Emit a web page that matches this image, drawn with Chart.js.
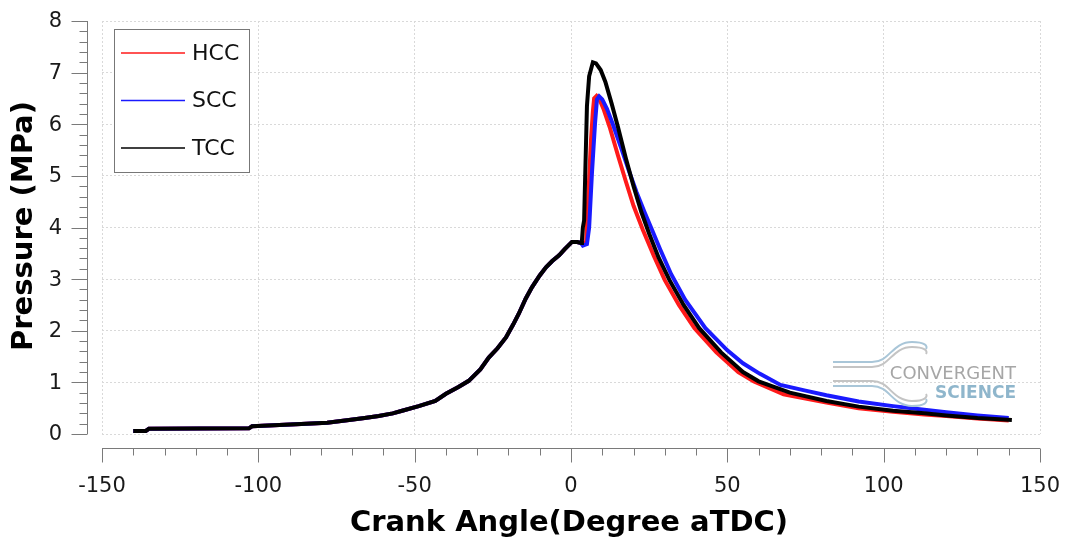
<!DOCTYPE html>
<html>
<head>
<meta charset="utf-8">
<script src="https://cdn.jsdelivr.net/npm/chart.js@4/dist/chart.umd.min.js"></script>
<style>
  html, body { margin: 0; padding: 0; background: #fff; }
  #wrap { width: 1069px; height: 542px; }
</style>
</head>
<body>
<div id="wrap"><canvas id="pressureChart" width="1069" height="542"></canvas></div>
<script>
// 压缩段（三条曲线基本重合）
const compressionAngle = [-140, -136, -135, -103, -102, -88, -78, -71, -66, -61.5, -57, -54, -48.7, -43.4, -40, -36, -32.7, -29, -26.3, -23.5, -20.8, -18.5, -16.7, -14.5, -12.5, -10, -8, -6, -3.8, -2, 0.3, 2, 3.2];
const compressionPressure = [0.06, 0.06, 0.10, 0.11, 0.15, 0.19, 0.22, 0.27, 0.31, 0.35, 0.40, 0.45, 0.54, 0.64, 0.78, 0.91, 1.03, 1.25, 1.48, 1.66, 1.87, 2.12, 2.33, 2.62, 2.84, 3.07, 3.23, 3.35, 3.46, 3.58, 3.72, 3.72, 3.70];

// 燃烧及膨胀段
const hccAngle = [4.8, 5.3, 6.0, 6.4, 7.0, 7.4, 8.2, 9, 10.5, 12.5, 15, 17.5, 20, 23, 26.5, 30, 34.5, 39.5, 46.5, 53.5, 58.5, 68, 81.7, 92, 103, 113, 120, 130, 140];
const hccPressure = [3.70, 4.3, 5.2, 5.7, 6.25, 6.5, 6.55, 6.5, 6.28, 5.92, 5.4, 4.9, 4.42, 3.95, 3.45, 2.98, 2.5, 2.05, 1.58, 1.2, 1.02, 0.77, 0.61, 0.50, 0.43, 0.38, 0.35, 0.30, 0.26];

const sccAngle = [3.8, 5.1, 5.8, 6.7, 7.7, 8.3, 9, 10, 11.5, 13.5, 16, 18.5, 21, 23.5, 25.6, 28.5, 32, 36.5, 43, 50, 55, 60.3, 67, 75, 81.7, 92, 103, 113, 120, 130, 140];
const sccPressure = [3.65, 3.68, 4.0, 5.06, 6.03, 6.48, 6.54, 6.48, 6.3, 5.98, 5.55, 5.1, 4.68, 4.3, 4.0, 3.58, 3.1, 2.6, 2.05, 1.62, 1.37, 1.17, 0.95, 0.84, 0.75, 0.63, 0.54, 0.47, 0.42, 0.36, 0.31];

const tccAngle = [3.5, 3.8, 4.2, 4.5, 5.1, 5.8, 7, 8, 9.5, 11, 13, 15, 17.5, 20, 22.5, 25, 28, 31.5, 36, 41, 48, 55, 60, 70, 81.7, 92, 103, 113, 120, 130, 141];
const tccPressure = [3.75, 4.0, 4.14, 4.9, 6.35, 6.93, 7.2, 7.18, 7.05, 6.82, 6.4, 5.95, 5.35, 4.8, 4.3, 3.88, 3.42, 2.98, 2.5, 2.05, 1.58, 1.2, 1.02, 0.8, 0.64, 0.53, 0.45, 0.40, 0.36, 0.31, 0.27];

const seriesNames = ['HCC', 'SCC', 'TCC'];
const seriesColors = ['#ff1a1a', '#1a1aff', '#000000'];

const xTicks = [-150, -100, -50, 0, 50, 100, 150];
const yTicks = [0, 1, 2, 3, 4, 5, 6, 7, 8];

function toPoints(angles, pressures) {
    return angles.map((a, i) => ({ x: a, y: pressures[i] }));
}

const baseLine = toPoints(compressionAngle, compressionPressure);

// 绘制偏移的坐标轴、刻度、标题、图例和水印
const decorPlugin = {
    id: 'decor',
    afterDraw(chart) {
        const { ctx, chartArea: a, scales: { x, y } } = chart;
        ctx.save();

        // x 轴
        const ay = a.bottom + 14.5;
        ctx.strokeStyle = '#7a7a7a';
        ctx.lineWidth = 1;
        ctx.beginPath();
        ctx.moveTo(x.getPixelForValue(-150), ay);
        ctx.lineTo(x.getPixelForValue(150), ay);
        for (let v = -150; v <= 150; v += 10) {
            const px = Math.round(x.getPixelForValue(v)) + 0.5;
            ctx.moveTo(px, ay);
            ctx.lineTo(px, ay + (v % 50 === 0 ? 14 : 7));
        }
        // y 轴
        const ax = a.left - 14.5;
        ctx.moveTo(ax, y.getPixelForValue(0));
        ctx.lineTo(ax, y.getPixelForValue(8));
        for (let i = 0; i <= 40; i++) {
            const py = Math.round(y.getPixelForValue(i * 0.2)) + 0.5;
            ctx.moveTo(ax, py);
            ctx.lineTo(ax - (i % 5 === 0 ? 16 : 8), py);
        }
        ctx.stroke();

        // 刻度标签
        ctx.fillStyle = '#1a1a1a';
        ctx.font = '21px "DejaVu Sans"';
        ctx.textBaseline = 'middle';
        ctx.textAlign = 'center';
        x.ticks.forEach(t => ctx.fillText(String(t.value), x.getPixelForValue(t.value), a.bottom + 52.5));
        ctx.textAlign = 'right';
        y.ticks.forEach(t => ctx.fillText(String(t.value), a.left - 40, y.getPixelForValue(t.value) + 1));

        // 轴标题
        ctx.fillStyle = '#000';
        ctx.font = 'bold 29px "DejaVu Sans"';
        ctx.textAlign = 'center';
        ctx.fillText('Crank Angle(Degree aTDC)', (a.left + a.right) / 2 - 2, 523);
        ctx.save();
        ctx.translate(24, 226);
        ctx.rotate(-Math.PI / 2);
        ctx.fillText('Pressure (MPa)', 0, 0);
        ctx.restore();

        // 水印
        ctx.lineWidth = 2;
        const swoosh = (color, yy, dir) => {
            ctx.strokeStyle = color;
            ctx.beginPath();
            ctx.moveTo(833, yy);
            ctx.lineTo(872, yy);
            ctx.bezierCurveTo(890, yy, 892, yy + dir * 20, 912, yy + dir * 20);
            ctx.bezierCurveTo(925, yy + dir * 20, 928, yy + dir * 16, 926, yy + dir * 13);
            ctx.stroke();
        };
        swoosh('#a9c6d8', 362, -1);
        swoosh('#c4c4c4', 367, -1);
        swoosh('#c4c4c4', 381, 1);
        swoosh('#a9c6d8', 386, 1);
        ctx.textAlign = 'right';
        ctx.font = '18px "DejaVu Sans"';
        ctx.fillStyle = '#a6a6a6';
        ctx.fillText('CONVERGENT', 1016, 374);
        ctx.fillStyle = '#8fb6cc';
        ctx.font = 'bold 17px "DejaVu Sans"';
        ctx.fillText('SCIENCE', 1016, 394);

        // 图例
        ctx.fillStyle = '#fff';
        ctx.fillRect(114, 29, 136, 144);
        ctx.strokeStyle = '#777';
        ctx.lineWidth = 1;
        ctx.strokeRect(114.5, 29.5, 135, 143);
        ctx.font = '22px "DejaVu Sans"';
        ctx.textAlign = 'left';
        chart.data.datasets.forEach((ds, i) => {
            const ly = 53 + i * 47.5;
            ctx.strokeStyle = ds.borderColor;
            ctx.lineWidth = 1.5;
            ctx.beginPath();
            ctx.moveTo(121, ly);
            ctx.lineTo(185, ly);
            ctx.stroke();
            ctx.fillStyle = '#111';
            ctx.fillText(ds.label, 192, ly + 1);
        });

        ctx.restore();
    }
};

const datasets = [
    { label: seriesNames[0], data: baseLine.concat(toPoints(hccAngle, hccPressure)), borderColor: seriesColors[0], order: 3 },
    { label: seriesNames[1], data: baseLine.concat(toPoints(sccAngle, sccPressure)), borderColor: seriesColors[1], order: 2 },
    { label: seriesNames[2], data: baseLine.concat(toPoints(tccAngle, tccPressure)), borderColor: seriesColors[2], order: 1 }
].map(ds => Object.assign(ds, { borderWidth: 4, pointRadius: 0, tension: 0, fill: false }));

new Chart(document.getElementById('pressureChart'), {
    type: 'line',
    data: { datasets },
    options: {
        responsive: false,
        animation: false,
        layout: { padding: { left: 102, right: 29, top: 21, bottom: 108 } },
        plugins: { legend: { display: false }, tooltip: { enabled: false } },
        scales: {
            x: {
                type: 'linear',
                min: -150,
                max: 150,
                afterBuildTicks: s => { s.ticks = xTicks.map(v => ({ value: v })); },
                ticks: { display: false },
                grid: { color: '#d9d9d9', drawTicks: false },
                border: { display: false, dash: [2, 2] }
            },
            y: {
                min: 0,
                max: 8,
                afterBuildTicks: s => { s.ticks = yTicks.map(v => ({ value: v })); },
                ticks: { display: false },
                grid: { color: '#d9d9d9', drawTicks: false },
                border: { display: false, dash: [2, 2] }
            }
        }
    },
    plugins: [decorPlugin]
});
</script>
</body>
</html>
